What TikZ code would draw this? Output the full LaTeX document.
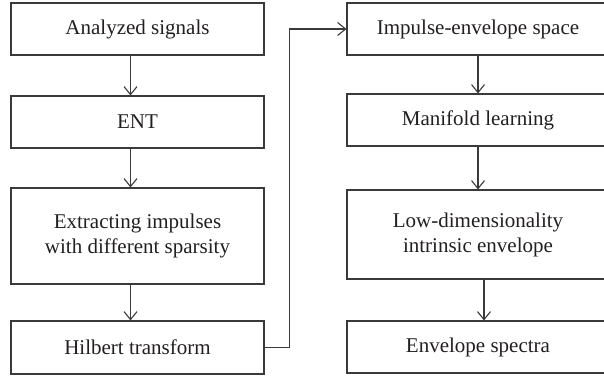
\documentclass[tikz,border=0pt]{standalone}
\usepackage{fontspec}
\setmainfont{Liberation Serif}
\usepackage{tikz}
\usetikzlibrary{arrows.meta,positioning}
\definecolor{linegray}{HTML}{3A3A3A}
\definecolor{txt}{HTML}{231F20}

\begin{document}
\begin{tikzpicture}[
    x=1pt, y=-1pt,
    box/.style={rectangle, draw=linegray, line width=1.1pt, text=txt,
      align=center, font=\fontsize{21}{25}\selectfont,
      minimum height=52pt, inner sep=0pt},
    lbox/.style={box, minimum width=253pt},
    rbox/.style={box, minimum width=262pt},
    arr/.style={-{Straight Barb[length=8pt, width=13pt]}, linegray, line width=1.1pt}
  ]
  \useasboundingbox (0,0) rectangle (604,377);
  \clip (0,0) rectangle (604,377);

  %% ---- left column ----
  \node[lbox] (sig) at (137.5,29) {Analyzed signals};
  \node[lbox] (ent) at (137.5,122) {ENT};
  \node[lbox, minimum height=96pt] (ext) at (137.5,236)
    {Extracting impulses\\with different sparsity};
  \node[lbox, minimum height=53pt] (hil) at (137.5,347.5) {Hilbert transform};

  %% ---- right column ----
  \node[rbox] (ies) at (478,29) {Impulse-envelope space};
  \node[rbox] (man) at (478,120) {Manifold learning};
  \node[rbox, minimum height=89pt] (low) at (478,234.5)
    {Low-dimensionality\\intrinsic envelope};
  \node[rbox] (env) at (478,347) {Envelope spectra};

  %% Connections
  \draw[arr] ([xshift=-7pt]sig.south) -- ([xshift=-7pt]ent.north);
  \draw[arr] ([xshift=-7pt]ent.south) -- ([xshift=-7pt]ext.north);
  \draw[arr] ([xshift=-7pt]ext.south) -- ([xshift=-7pt]hil.north);
  \draw[arr] (hil.east) -- ++(25,0) |- (ies.west);
  \draw[arr] (ies) -- (man);
  \draw[arr] (man) -- (low);
  \draw[arr] ([xshift=6pt]low.south) -- ([xshift=6pt]env.north);

\end{tikzpicture}
\end{document}
